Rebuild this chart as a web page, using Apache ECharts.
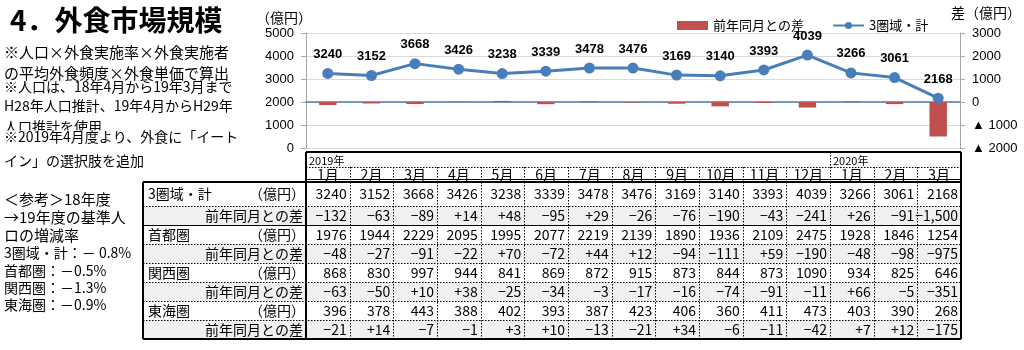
<!DOCTYPE html>
<html>
<head>
<meta charset="utf-8">
<script src="https://cdn.jsdelivr.net/npm/echarts@6/dist/echarts.min.js"></script>
<style>
  html, body { margin: 0; padding: 0; background: #fff; }
  #chart { width: 1024px; height: 350px; }
</style>
</head>
<body>
<div id="chart"></div>
<script>
// ---- data ----
const months = ['1月', '2月', '3月', '4月', '5月', '6月', '7月', '8月', '9月', '10月', '11月', '12月', '1月', '2月', '3月'];
const years = ['2019年', '', '', '', '', '', '', '', '', '', '', '', '2020年', '', ''];

const total      = [3240, 3152, 3668, 3426, 3238, 3339, 3478, 3476, 3169, 3140, 3393, 4039, 3266, 3061, 2168];
const totalDiff  = [-132, -63, -89, 14, 48, -95, 29, -26, -76, -190, -43, -241, 26, -91, -1500];
const shutoken   = [1976, 1944, 2229, 2095, 1995, 2077, 2219, 2139, 1890, 1936, 2109, 2475, 1928, 1846, 1254];
const shutokenDiff = [-48, -27, -91, -22, 70, -72, 44, 12, -94, -111, 59, -190, -48, -98, -975];
const kansai     = [868, 830, 997, 944, 841, 869, 872, 915, 873, 844, 873, 1090, 934, 825, 646];
const kansaiDiff = [-63, -50, 10, 38, -25, -34, -3, -17, -16, -74, -91, -11, 66, -5, -351];
const tokai      = [396, 378, 443, 388, 402, 393, 387, 423, 406, 360, 411, 473, 403, 390, 268];
const tokaiDiff  = [-21, 14, -7, -1, 3, 10, -13, -21, 34, -6, -11, -42, 7, 12, -175];

const leftAxisTicks = { min: 0, max: 5000, interval: 1000 };
const rightAxisTicks = { min: -2000, max: 3000, interval: 1000 };

const title = '4．外食市場規模';
const notes = [
  '※人口×外食実施率×外食実施者',
  'の平均外食頻度×外食単価で算出',
  '※人口は、18年4月から19年3月まで',
  'H28年人口推計、19年4月からH29年',
  '人口推計を使用',
  '※2019年4月度より、外食に「イート',
  'イン」の選択肢を追加'
];
const refNotes = [
  '＜参考＞18年度',
  '→19年度の基準人',
  'ロの増減率',
  '3圏域・計：－ 0.8%',
  '首都圏：－0.5%',
  '関西圏：－1.3%',
  '東海圏：－0.9%'
];

const tableRows = [
  { label: '3圏域・計', unit: '（億円）', values: total },
  { label: '前年同月との差', values: totalDiff, diff: true },
  { label: '首都圏', unit: '（億円）', values: shutoken },
  { label: '前年同月との差', values: shutokenDiff, diff: true },
  { label: '関西圏', unit: '（億円）', values: kansai },
  { label: '前年同月との差', values: kansaiDiff, diff: true },
  { label: '東海圏', unit: '（億円）', values: tokai },
  { label: '前年同月との差', values: tokaiDiff, diff: true }
];

// ---- layout ----
const W = 1024, H = 350;
const PLOT_LEFT = 306, PLOT_RIGHT = 63, PLOT_TOP = 33, PLOT_BOTTOM = 202;
const TABLE_LEFT = 143, TABLE_TOP = 152, TABLE_BOTTOM = 11;
const N = months.length;
const colW = (W - PLOT_RIGHT - PLOT_LEFT) / N;
const labelUnits = (PLOT_LEFT - TABLE_LEFT) / colW;
// row heights: year header, month header, first data row, then the rest
const rowH = [15, 15, 24, 19, 19, 19, 19, 19, 19, 19];
const rowEdge = rowH.reduce((a, h) => { a.push(a[a.length - 1] + h); return a; }, [0]);

const JP = '"Noto Sans CJK JP", "Noto Sans", sans-serif';
const NUM = '"Liberation Sans", Arial, sans-serif';
const BLUE = '#4a7ebb';
const RED = '#c0504d';
const DIFF_BG = '#f0f0f0';

function fmtDiff(v) {
  if (v > 0) return '+' + v.toLocaleString('en-US');
  if (v < 0) return '−' + Math.abs(v).toLocaleString('en-US');
  return '0';
}

// ---- table cells ----
const cells = [];
months.forEach((m, i) => {
  if (years[i]) cells.push({ x0: i, x1: i + 1, row: 0, text: years[i], align: 'left', pad: 3, font: '11px ' + JP, dy: 1 });
  cells.push({ x0: i, x1: i + 1, row: 1, text: m, align: 'center', font: '14px ' + JP });
});
tableRows.forEach((r, ri) => {
  const row = ri + 2;
  const bg = r.diff ? DIFF_BG : null;
  if (r.diff) {
    cells.push({ x0: -labelUnits, x1: 0, row, text: r.label, align: 'right', pad: 3, font: '14px ' + JP, bg });
  } else {
    cells.push({ x0: -labelUnits, x1: 0, row, text: r.label, align: 'left', pad: 5, font: '14px ' + JP });
    cells.push({ x0: -labelUnits, x1: 0, row, text: r.unit, align: 'right', pad: 1, font: '14px ' + JP });
  }
  r.values.forEach((v, i) => {
    cells.push({ x0: i, x1: i + 1, row, text: r.diff ? fmtDiff(v) : String(v), align: 'right', pad: 3, font: '14px ' + JP, bg });
  });
});

function renderCell(params, api) {
  const c = cells[params.dataIndex];
  const p0 = api.coord([c.x0, rowEdge[c.row]]);
  const p1 = api.coord([c.x1, rowEdge[c.row + 1]]);
  const children = [];
  if (c.bg) {
    children.push({ type: 'rect', shape: { x: p0[0], y: p0[1], width: p1[0] - p0[0], height: p1[1] - p0[1] }, style: { fill: c.bg } });
  }
  const tx = c.align === 'left' ? p0[0] + c.pad : c.align === 'right' ? p1[0] - c.pad : (p0[0] + p1[0]) / 2;
  children.push({
    type: 'text',
    style: { x: tx, y: (p0[1] + p1[1]) / 2 + (c.dy || 0), text: c.text, align: c.align, verticalAlign: 'middle', font: c.font, fill: '#000' }
  });
  return { type: 'group', children };
}

function renderRules(params, api) {
  const px = (x) => api.coord([x, 0])[0];
  const py = (r) => api.coord([0, rowEdge[r]])[1];
  const snap = (v) => Math.round(v) + 0.5;
  const out = [];
  const line = (x1, y1, x2, y2, w, dash) => out.push({
    type: 'line',
    shape: { x1, y1, x2, y2 },
    style: { stroke: '#000', lineWidth: w, lineDash: dash ? [1.5, 1.5] : null }
  });
  const L = px(-labelUnits), M = px(0), R = px(N);
  const last = rowEdge.length - 1;
  // dotted column separators
  for (let i = 1; i < N; i++) {
    const x = snap(px(i));
    line(x, py(years[i] ? 0 : 1), x, py(last), 1, true);
  }
  // dotted rule under the year header
  line(M, snap(py(1)), R, snap(py(1)), 1, true);
  // row separators: solid between the first region and the rest, dotted elsewhere
  for (let r = 3; r < last; r++) {
    const y = snap(py(r));
    line(L, y, R, y, 1, r !== 4);
  }
  // header frame and double rule under the months
  line(M, py(0), R, py(0), 2);
  line(M, snap(py(2)) - 3, R, snap(py(2)) - 3, 1);
  line(L, py(2), R, py(2), 2);
  // outer frame
  line(L, py(2), L, py(last), 2);
  line(M, py(0), M, py(last), 2);
  line(R, py(0), R, py(last), 2);
  line(L, py(last), R, py(last), 2);
  return { type: 'group', children: out };
}

// ---- side texts ----
const noteY = [52, 73, 87, 106, 127, 137, 161];
const noteSize = [15, 15, 14, 14, 14, 14, 14];
const refY = [199, 217, 235, 253, 271, 288, 305];
const graphics = [
  { type: 'text', left: 10, top: 6, style: { text: title, font: 'bold 28px ' + JP, fill: '#000' } }
];
notes.forEach((t, i) => {
  const style = { x: 4, y: noteY[i], text: t, font: noteSize[i] + 'px ' + JP, fill: '#000', verticalAlign: 'middle' };
  // the line after the population note sits over its lower edge
  if (i === 5) { style.backgroundColor = '#fff'; style.lineHeight = 13; }
  graphics.push({ type: 'text', z: i, style });
});
refNotes.forEach((t, i) => {
  graphics.push({ type: 'text', style: { x: 4, y: refY[i], text: t, font: (i < 3 ? '15px ' : '14px ') + JP, fill: '#000', verticalAlign: 'middle' } });
});

const chart = echarts.init(document.getElementById('chart'), null, { renderer: 'canvas' });
chart.setOption({
  animation: false,
  backgroundColor: '#fff',
  textStyle: { fontFamily: JP },
  graphic: graphics,
  legend: {
    left: 672, top: 14,
    itemWidth: 31, itemHeight: 9, itemGap: 28,
    textStyle: { fontSize: 13, color: '#000', fontFamily: JP },
    data: [{ name: '前年同月との差', icon: 'rect' }, { name: '3圏域・計' }]
  },
  grid: [
    { left: PLOT_LEFT, right: PLOT_RIGHT, top: PLOT_TOP, bottom: PLOT_BOTTOM },
    { left: TABLE_LEFT, right: PLOT_RIGHT, top: TABLE_TOP, bottom: TABLE_BOTTOM }
  ],
  xAxis: [
    {
      gridIndex: 0, type: 'category', data: months, boundaryGap: true,
      axisLabel: { show: false }, axisTick: { show: false },
      axisLine: { onZero: true, onZeroAxisIndex: 1, lineStyle: { color: BLUE, width: 1.5 } }
    },
    { gridIndex: 1, type: 'value', min: -labelUnits, max: N, show: false }
  ],
  yAxis: [
    {
      gridIndex: 0, type: 'value', position: 'left',
      min: leftAxisTicks.min, max: leftAxisTicks.max, interval: leftAxisTicks.interval,
      name: '（億円）', nameGap: 8,
      nameTextStyle: { color: '#000', fontSize: 14, fontFamily: JP, padding: [0, 44, 0, 0] },
      axisLine: { show: true, lineStyle: { color: '#a6a6a6' } },
      axisTick: { show: true, length: 5, lineStyle: { color: '#a6a6a6' } },
      axisLabel: { color: '#000', fontSize: 13, fontFamily: NUM, margin: 12, formatter: (v) => String(v) },
      splitLine: { lineStyle: { color: '#d9d9d9' } }
    },
    {
      gridIndex: 0, type: 'value', position: 'right',
      min: rightAxisTicks.min, max: rightAxisTicks.max, interval: rightAxisTicks.interval,
      name: '差（億円）', nameGap: 13,
      nameTextStyle: { color: '#000', fontSize: 14, fontFamily: JP, padding: [0, 0, 0, 52] },
      axisLine: { show: true, lineStyle: { color: '#a6a6a6' } },
      axisTick: { show: true, length: 5, lineStyle: { color: '#a6a6a6' } },
      axisLabel: {
        color: '#000', fontSize: 13, fontFamily: NUM, margin: 12, align: 'left',
        formatter: (v) => v < 0 ? '▲ ' + Math.abs(v) : String(v)
      },
      splitLine: { show: false }
    },
    { gridIndex: 1, type: 'value', inverse: true, min: 0, max: rowEdge[rowEdge.length - 1], show: false }
  ],
  series: [
    {
      name: '前年同月との差', type: 'bar', xAxisIndex: 0, yAxisIndex: 1,
      data: totalDiff, barWidth: '40%',
      itemStyle: { color: RED }
    },
    {
      name: '3圏域・計', type: 'line', xAxisIndex: 0, yAxisIndex: 0,
      data: total, symbol: 'circle', symbolSize: 11,
      lineStyle: { color: BLUE, width: 3 },
      itemStyle: { color: BLUE },
      label: { show: true, position: 'top', distance: 7, color: '#000', fontWeight: 'bold', fontSize: 13, fontFamily: NUM }
    },
    {
      type: 'custom', xAxisIndex: 1, yAxisIndex: 2, silent: true, clip: false, z: 2,
      data: cells.map((c) => [(c.x0 + c.x1) / 2, (rowEdge[c.row] + rowEdge[c.row + 1]) / 2]),
      renderItem: renderCell
    },
    {
      type: 'custom', xAxisIndex: 1, yAxisIndex: 2, silent: true, clip: false, z: 3,
      data: [[0, 0]],
      renderItem: renderRules
    }
  ]
});
</script>
</body>
</html>
